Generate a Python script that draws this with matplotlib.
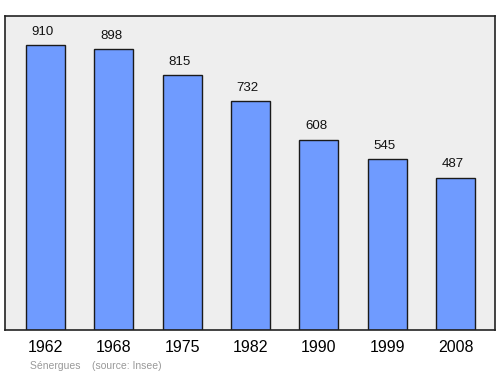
import matplotlib
matplotlib.use('Agg')
import matplotlib.pyplot as plt

plt.rcParams['font.family'] = ['Liberation Sans', 'DejaVu Sans']

## population data
years = ['1962', '1968', '1975', '1982', '1990', '1999', '2008']
population = [910, 898, 815, 732, 608, 545, 487]
commune = 'Sénergues'
source = '(source: Insee)'

fig = plt.figure(figsize=(5, 3.74), dpi=100)
ax = fig.add_axes([0.01, 0.1176, 0.98, 0.8396])
ax.set_facecolor('#eeeeee')

x = range(len(years))
ax.bar(x, population, width=0.57, color='#6f9bff', edgecolor='#1a1a1a', linewidth=1, zorder=2)

# value labels sit a little left of the bar centre in the original
for i, v in enumerate(population):
    ax.text(i - 0.04, v + 23, str(v), ha='center', va='bottom', fontsize=9.5, color='#111111')

ax.set_xlim(-0.593, 6.578)
ax.set_ylim(0, 1003)
ax.set_xticks(list(x))
ax.set_xticklabels(years, fontsize=11.5)
ax.tick_params(axis='x', length=0, pad=7)
ax.set_yticks([])
for s in ax.spines.values():
    s.set_linewidth(1.2)
    s.set_color('#222222')

fig.text(0.06, 0.014, commune + '    ' + source, fontsize=7.5, color='#999999')

plt.savefig('out.png', dpi=100)
